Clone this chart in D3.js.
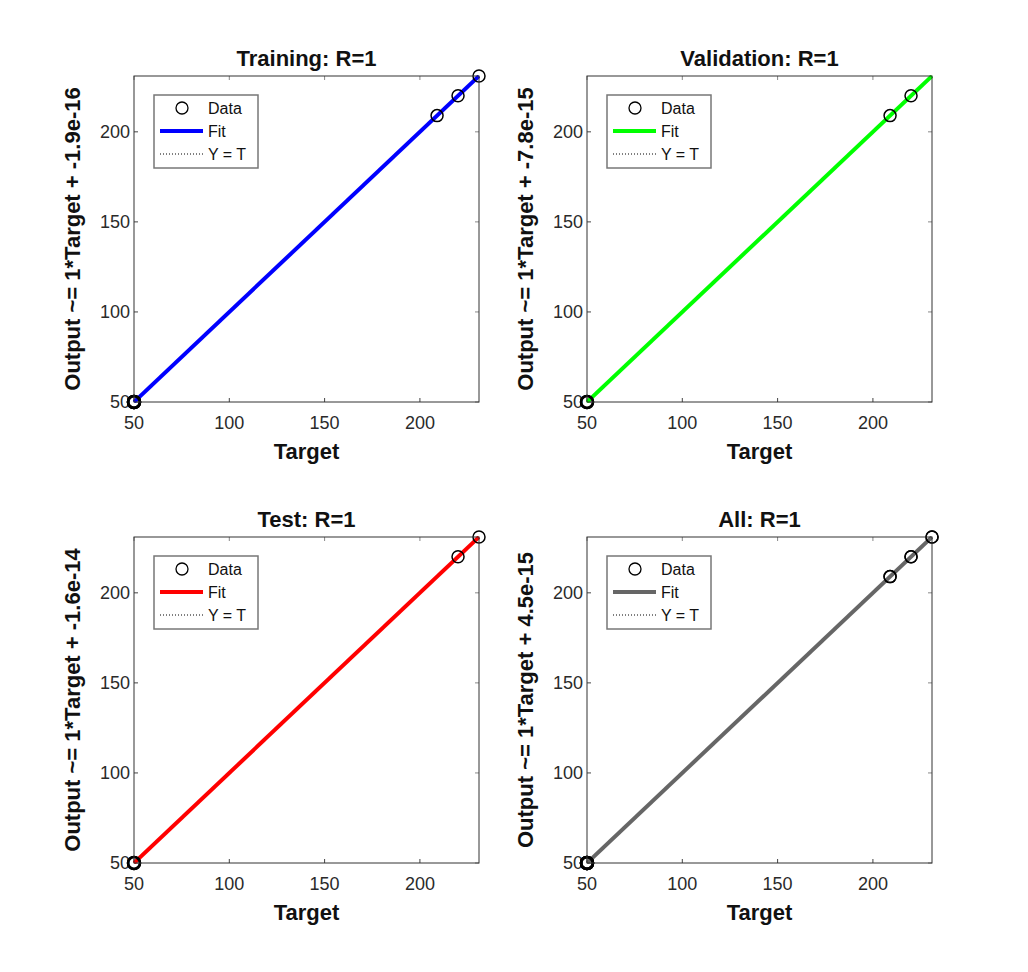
<!DOCTYPE html>
<html>
<head>
<meta charset="utf-8">
<script src="https://cdn.jsdelivr.net/npm/d3@7"></script>
<style>
  body { margin: 0; background: #fff; }
  svg { display: block; font-family: "Liberation Sans", Arial, sans-serif; }
  .tick-label { font-size: 18px; fill: #2a2a2a; }
  .title, .axis-title { font-size: 22px; font-weight: bold; fill: #111; }
  .legend-text { font-size: 16px; fill: #111; }
</style>
</head>
<body>
<div id="chart"></div>
<script>
// panel names and fit colours
const panelNames = ["Training", "Validation", "Test", "All"];
const fitColors = ["#0000ff", "#00ff00", "#ff0000", "#666666"];
const rValues = ["1", "1", "1", "1"];
const slopes = [1, 1, 1, 1];
const intercepts = ["-1.9e-16", "-7.8e-15", "-1.6e-14", "4.5e-15"];

// targets per subset (outputs equal targets, R = 1)
const targetsTraining = [50, 50, 50, 50, 209, 220, 231];
const targetsValidation = [50, 50, 209, 220];
const targetsTest = [50, 50, 220, 231];
const targetsAll = [50, 50, 50, 50, 50, 209, 209, 220, 220, 231, 231];

const outputsTraining = [50, 50, 50, 50, 209, 220, 231];
const outputsValidation = [50, 50, 209, 220];
const outputsTest = [50, 50, 220, 231];
const outputsAll = [50, 50, 50, 50, 50, 209, 209, 220, 220, 231, 231];

const axisLimits = [50, 231];
const tickValues = [50, 100, 150, 200];
const legendLabels = ["Data", "Fit", "Y = T"];

const targets = [targetsTraining, targetsValidation, targetsTest, targetsAll];
const outputs = [outputsTraining, outputsValidation, outputsTest, outputsAll];

const width = 1028, height = 972;
const plotW = 345, plotH = 326;
const lefts = [134, 587];
const tops = [76, 537];

const svg = d3.select("#chart").append("svg")
  .attr("width", width)
  .attr("height", height);

panelNames.forEach((name, i) => {
  const ox = lefts[i % 2];
  const oy = tops[Math.floor(i / 2)];

  const x = d3.scaleLinear().domain(axisLimits).range([0, plotW]);
  const y = d3.scaleLinear().domain(axisLimits).range([plotH, 0]);

  const g = svg.append("g")
    .attr("transform", "translate(" + ox + "," + oy + ")");

  const clipId = "clip" + i;
  g.append("clipPath").attr("id", clipId)
    .append("rect").attr("x", -1).attr("y", -1)
    .attr("width", plotW + 2).attr("height", plotH + 2);

  // ticks on all four sides, pointing inwards
  const tickLen = 4;
  tickValues.forEach((t) => {
    g.append("line").attr("x1", x(t)).attr("x2", x(t))
      .attr("y1", plotH).attr("y2", plotH - tickLen)
      .attr("stroke", "#444");
    g.append("line").attr("x1", x(t)).attr("x2", x(t))
      .attr("y1", 0).attr("y2", tickLen)
      .attr("stroke", "#888");
    g.append("line").attr("y1", y(t)).attr("y2", y(t))
      .attr("x1", 0).attr("x2", tickLen)
      .attr("stroke", "#444");
    g.append("line").attr("y1", y(t)).attr("y2", y(t))
      .attr("x1", plotW).attr("x2", plotW - tickLen)
      .attr("stroke", "#888");
  });

  // tick labels
  g.selectAll("text.xtick").data(tickValues).enter()
    .append("text")
    .attr("class", "tick-label xtick")
    .attr("x", (d) => x(d))
    .attr("y", plotH + 27)
    .attr("text-anchor", "middle")
    .text((d) => d);

  g.selectAll("text.ytick").data(tickValues).enter()
    .append("text")
    .attr("class", "tick-label ytick")
    .attr("x", -4)
    .attr("y", (d) => y(d) + 6)
    .attr("text-anchor", "end")
    .text((d) => d);

  const plot = g.append("g").attr("clip-path", "url(#" + clipId + ")");

  // Y = T reference line
  plot.append("line")
    .attr("x1", x(axisLimits[0])).attr("y1", y(axisLimits[0]))
    .attr("x2", x(axisLimits[1])).attr("y2", y(axisLimits[1]))
    .attr("stroke", "#000")
    .attr("stroke-width", 1)
    .attr("stroke-dasharray", "1,2");

  // fit line over the axis range
  const b = +intercepts[i];
  plot.append("line")
    .attr("x1", x(axisLimits[0])).attr("y1", y(slopes[i] * axisLimits[0] + b))
    .attr("x2", x(axisLimits[1])).attr("y2", y(slopes[i] * axisLimits[1] + b))
    .attr("stroke", fitColors[i])
    .attr("stroke-width", 4);

  // data circles
  g.selectAll("circle.data").data(targets[i]).enter()
    .append("circle")
    .attr("class", "data")
    .attr("cx", (d) => x(d))
    .attr("cy", (d, j) => y(outputs[i][j]))
    .attr("r", 6)
    .attr("fill", "none")
    .attr("stroke", "#000")
    .attr("stroke-width", (d) => d === axisLimits[0] ? 2.5 : 1.5);

  // axes box
  g.append("rect")
    .attr("width", plotW).attr("height", plotH)
    .attr("fill", "none")
    .attr("stroke", "#333")
    .attr("stroke-width", 1);

  // title and axis titles
  g.append("text")
    .attr("class", "title")
    .attr("x", plotW / 2)
    .attr("y", -10)
    .attr("text-anchor", "middle")
    .text(name + ": R=" + rValues[i]);

  g.append("text")
    .attr("class", "axis-title")
    .attr("x", plotW / 2)
    .attr("y", plotH + 57)
    .attr("text-anchor", "middle")
    .text("Target");

  g.append("text")
    .attr("class", "axis-title")
    .attr("transform", "translate(-54," + (plotH / 2) + ") rotate(-90)")
    .attr("text-anchor", "middle")
    .text("Output ~= " + slopes[i] + "*Target + " + intercepts[i]);

  // legend
  const lg = g.append("g").attr("transform", "translate(20,19)");
  lg.append("rect")
    .attr("width", 104).attr("height", 73)
    .attr("fill", "#fff")
    .attr("stroke", "#777")
    .attr("stroke-width", 1.5);

  const rowY = (k) => 13 + k * 23;
  lg.append("circle")
    .attr("cx", 28).attr("cy", rowY(0)).attr("r", 6)
    .attr("fill", "none").attr("stroke", "#000").attr("stroke-width", 1.3);
  lg.append("line")
    .attr("x1", 6).attr("x2", 49).attr("y1", rowY(1)).attr("y2", rowY(1))
    .attr("stroke", fitColors[i]).attr("stroke-width", 4);
  lg.append("line")
    .attr("x1", 6).attr("x2", 49).attr("y1", rowY(2)).attr("y2", rowY(2))
    .attr("stroke", "#000").attr("stroke-width", 1)
    .attr("stroke-dasharray", "1,2");

  lg.selectAll("text.legend-text").data(legendLabels).enter()
    .append("text")
    .attr("class", "legend-text")
    .attr("x", 54)
    .attr("y", (d, k) => rowY(k) + 6)
    .text((d) => d);
});
</script>
</body>
</html>
